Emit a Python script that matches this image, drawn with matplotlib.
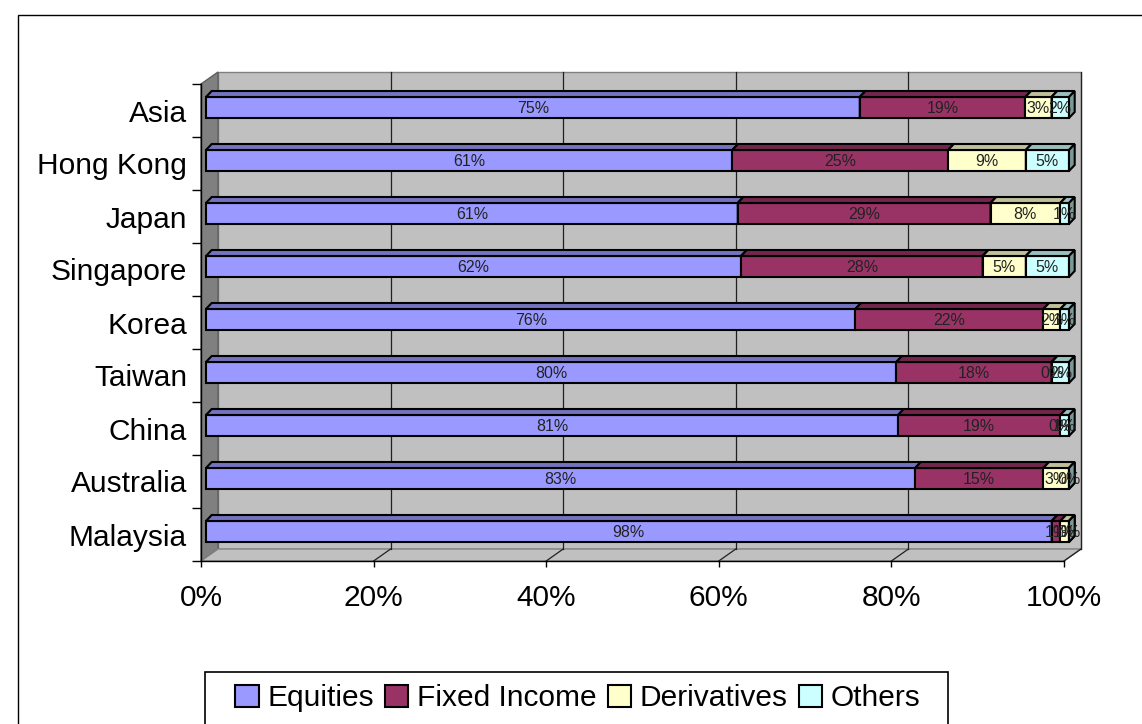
import matplotlib
matplotlib.use("Agg")
import matplotlib.pyplot as plt
from matplotlib.patches import Polygon, Rectangle
from matplotlib.colors import to_rgb

# data (bottom row first)
regions = ["Malaysia", "Australia", "China", "Taiwan", "Korea",
           "Singapore", "Japan", "Hong Kong", "Asia"]
equities = [98, 83, 81, 80, 76, 62, 61, 61, 75]
fixed_income = [1, 15, 19, 18, 22, 28, 29, 25, 19]
derivatives = [1, 3, 0, 0, 2, 5, 8, 9, 3]
others = [0, 0, 1, 2, 1, 5, 1, 5, 2]
series_names = ["Equities", "Fixed Income", "Derivatives", "Others"]
colors = ["#9999FF", "#993366", "#FFFFCC", "#CCFFFF"]
x_ticks = [0, 20, 40, 60, 80, 100]

plt.rcParams["font.family"] = ["Liberation Sans", "DejaVu Sans"]


def shade(c, k):
    r, g, b = to_rgb(c)
    return (r * k, g * k, b * k)


W, H = 1142, 724
fig = plt.figure(figsize=(W / 100, H / 100), dpi=100)
fig.patch.set_facecolor("white")

# outer chart border and legend box
fig.patches.append(Rectangle((18 / W, -0.05), 1.2, 1.05 - 15 / H, transform=fig.transFigure,
                             fill=False, edgecolor="black", lw=1))
fig.patches.append(Rectangle((205 / W, -0.05), 743 / W, 0.05 + (H - 672) / H,
                             transform=fig.transFigure, fill=False, edgecolor="black", lw=1.2))

ax = fig.add_axes([201 / W, 1 - 561 / H, 863 / W, 477 / H])
ax.set_xlim(0, 100)
ax.set_ylim(-0.5, len(regions) - 0.5)
ax.patch.set_visible(False)

# pixel -> data units
px = 100 / 863
py = len(regions) / 477
wall_dx, wall_dy = 17 * px, 12 * py
bar_dx, bar_dy = 5 * px, 3 * py
top_dx, top_dy = 5.7 * px, 6 * py
bar_h = 21 * py
y0, y1 = -0.5, len(regions) - 0.5

# walls and floor
ax.add_patch(Rectangle((wall_dx, y0 + wall_dy), 100, y1 - y0, facecolor="#C0C0C0",
                       edgecolor="#808080", lw=1, zorder=0, clip_on=False))
ax.add_patch(Polygon([(0, y0), (0, y1), (wall_dx, y1 + wall_dy), (wall_dx, y0 + wall_dy)],
                     facecolor="#808080", edgecolor="#606060", lw=1, zorder=0.5, clip_on=False))
ax.add_patch(Polygon([(0, y0), (100, y0), (100 + wall_dx, y0 + wall_dy), (wall_dx, y0 + wall_dy)],
                     facecolor="#C0C0C0", edgecolor="#808080", lw=1, zorder=0.5, clip_on=False))
for t in x_ticks[1:]:
    ax.plot([t + wall_dx, t + wall_dx], [y0 + wall_dy, y1 + wall_dy], color="#202020",
            lw=0.9, zorder=0.6, clip_on=False)
    ax.plot([t, t + wall_dx], [y0, y0 + wall_dy], color="#202020", lw=0.9, zorder=0.6,
            clip_on=False)

# stacked 3d-looking bars
series = [equities, fixed_income, derivatives, others]
for i in range(len(regions)):
    total = sum(s[i] for s in series)
    left = 0
    yb = i - bar_h / 2 + bar_dy
    for s, c in zip(series, colors):
        w = s[i] / total * 100
        x0 = left + bar_dx
        x1 = left + w + bar_dx
        ax.add_patch(Rectangle((x0, yb), w, bar_h, facecolor=c, edgecolor="black",
                               lw=1.5, zorder=2, clip_on=False))
        ax.add_patch(Polygon([(x0, yb + bar_h), (x1, yb + bar_h),
                              (x1 + top_dx, yb + bar_h + top_dy), (x0 + top_dx, yb + bar_h + top_dy)],
                             facecolor=shade(c, 0.75), edgecolor="black", lw=1.5, zorder=2,
                             clip_on=False))
        ax.add_patch(Polygon([(x1, yb), (x1, yb + bar_h), (x1 + top_dx, yb + bar_h + top_dy),
                              (x1 + top_dx, yb + top_dy)],
                             facecolor=shade(c, 0.6), edgecolor="black", lw=1.5, zorder=2,
                             clip_on=False))
        left += w
    # labels on top
    left = 0
    for s in series:
        w = s[i] / total * 100
        ax.text(left + w / 2 + bar_dx, i + bar_dy - 0.02, f"{s[i]}%", ha="center", va="center",
                fontsize=11.5, color="#222222", zorder=3)
        left += w

# axes
for side in ["top", "right"]:
    ax.spines[side].set_visible(False)
ax.spines["left"].set_linewidth(1)
ax.spines["bottom"].set_linewidth(1)
ax.set_xticks(x_ticks)
ax.set_xticklabels([f"{t}%" for t in x_ticks], fontsize=21.5)
ax.tick_params(axis="x", length=4.3, width=1, pad=12.5)
ax.set_yticks(range(len(regions)))
ax.set_yticklabels(regions, fontsize=21.5)
ax.set_yticks([k - 0.5 for k in range(len(regions) + 1)], minor=True)
ax.tick_params(axis="y", which="major", length=0, pad=10)
ax.tick_params(axis="y", which="minor", length=6.5, width=1)

handles = [Rectangle((0, 0), 1, 1, facecolor=c, edgecolor="black", lw=1.5) for c in colors]
fig.legend(handles, series_names, loc="center", bbox_to_anchor=(578 / W, 1 - 698 / H),
           ncol=4, frameon=False, handlelength=0.78, handleheight=0.75, handletextpad=0.3,
           columnspacing=0.36, fontsize=21.5)

fig.savefig("out.png", dpi=100)
